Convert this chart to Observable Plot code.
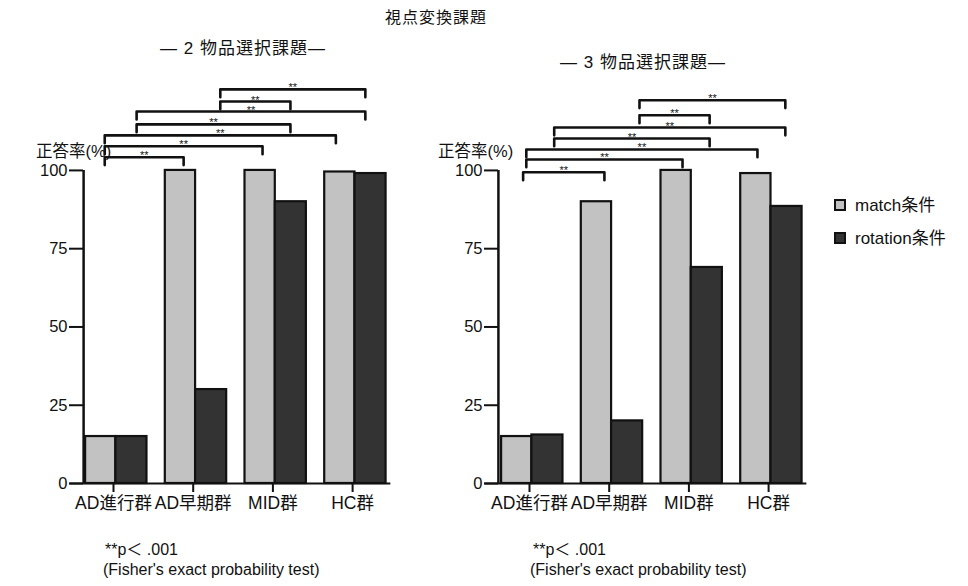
<!DOCTYPE html>
<html><head><meta charset="utf-8">
<script src="https://cdn.jsdelivr.net/npm/d3@7"></script>
<script src="https://cdn.jsdelivr.net/npm/@observablehq/plot@0.6"></script>
<style>
body{margin:0;background:#fff;font-family:"Liberation Sans",Arial,"Noto Sans CJK JP",sans-serif;color:#111;}
#root{position:relative;width:968px;height:586px;overflow:hidden;background:#fff;}
.t{position:absolute;white-space:nowrap;line-height:1;color:#111;}
.panel{position:absolute;top:30px;}
.sw{position:absolute;width:12px;height:12px;box-sizing:border-box;border:2px solid #111;}
</style></head><body><div id="root"></div>
<script>
// ---- data ----
const groups = ["AD進行群", "AD早期群", "MID群", "HC群"];
const conditions = ["match条件", "rotation条件"];
const yTicks = [0, 25, 50, 75, 100];
// 2 物品選択課題 (percent correct)
const match2 = [15, 100, 100, 99.5];
const rotation2 = [15, 30, 90, 99];
// 3 物品選択課題
const match3 = [15, 90, 100, 99];
const rotation3 = [15.5, 20, 69, 88.5];
// significance brackets: endpoints in group-index units, height in % units
const bracketFrom2 = [1.34, 1.34, 0.29, 0.29, -0.11, -0.11, -0.11];
const bracketTo2   = [3.16, 2.22, 3.16, 2.22, 2.79, 1.87, 0.88];
const bracketAt2   = [125.9, 122.0, 118.8, 114.7, 111.2, 107.7, 104.2];
const bracketFrom3 = [1.38, 1.38, 0.31, 0.31, -0.04, -0.04, -0.08];
const bracketTo3   = [3.21, 2.26, 3.21, 2.26, 2.86, 1.92, 0.94];
const bracketAt3   = [122.4, 117.6, 113.7, 110.2, 106.7, 103.5, 99.4];
const sigLabel = "**";

const colors = ["#c2c2c2", "#333333"];
const FONT = '"Liberation Sans", Arial, "Noto Sans CJK JP", sans-serif';

function panel({match, rotation, from, to, at, xrange, width, marginLeft, axisAt}) {
  const height = 490;
  const rows = groups.flatMap((g, i) => [
    {i, cond: conditions[0], v: match[i]},
    {i, cond: conditions[1], v: rotation[i]}
  ]);
  const brs = from.map((x1, k) => ({k, x1, x2: to[k], y: at[k]}));
  const leg = 2.5;
  const pts = brs.flatMap(b => [
    {k: b.k, x: b.x1, y: b.y - leg}, {k: b.k, x: b.x1, y: b.y},
    {k: b.k, x: b.x2, y: b.y}, {k: b.k, x: b.x2, y: b.y - leg}
  ]);
  return Plot.plot({
    width, height, marginLeft, marginRight: 0, marginTop: 0, marginBottom: height - 453,
    style: {fontFamily: FONT, color: "#111", background: "transparent", overflow: "visible"},
    x: {domain: [-1, 4], range: xrange},
    y: {domain: [0, 130], range: [453, 46]},
    color: {domain: conditions, range: colors},
    marks: [
      Plot.rect(rows, {
        x1: d => d.i + (d.cond === conditions[0] ? -0.35 : 0.03),
        x2: d => d.i + (d.cond === conditions[0] ? 0.03 : 0.42),
        y1: 0, y2: "v", fill: "cond", stroke: "#111", strokeWidth: 2.2
      }),
      Plot.ruleY([0], {x1: axisAt - 0.17, x2: 3.48, stroke: "#111", strokeWidth: 2}),
      Plot.ruleX([axisAt], {y1: 0, y2: 100, stroke: "#111", strokeWidth: 2.5}),
      Plot.axisY({ticks: yTicks, tickSize: 14, tickPadding: 2, fontSize: 16.5, strokeWidth: 2, label: null}),
      Plot.axisX({ticks: [0, 1, 2, 3], tickFormat: i => groups[i], tickSize: 9, tickPadding: 4,
                  fontSize: 17.5, strokeWidth: 2, label: null}),
      Plot.line(pts, {x: "x", y: "y", z: "k", stroke: "#111", strokeWidth: 2.6}),
      Plot.text(brs, {x: d => (d.x1 + d.x2) / 2, y: "y", text: () => sigLabel, fontSize: 11, dy: -1.5, fill: "#111"})
    ]
  });
}

const root = document.getElementById("root");
function addText(txt, x, y, size, anchor = "left", extra = "") {
  const d = document.createElement("div");
  d.className = "t";
  d.textContent = txt;
  d.style.fontSize = size + "px";
  d.style.top = (y - size / 2) + "px";
  if (anchor === "center") { d.style.left = x + "px"; d.style.transform = "translateX(-50%)"; }
  else d.style.left = x + "px";
  if (extra) d.style.cssText += extra;
  root.appendChild(d);
}

const left = document.createElement("div");
left.className = "panel"; left.style.left = "0px";
left.appendChild(panel({match: match2, rotation: rotation2, from: bracketFrom2, to: bracketTo2, at: bracketAt2,
  xrange: [33.3, 431.8], width: 440, marginLeft: 83, axisAt: -0.375}));
root.appendChild(left);

const right = document.createElement("div");
right.className = "panel"; right.style.left = "440px";
right.appendChild(panel({match: match3, rotation: rotation3, from: bracketFrom3, to: bracketTo3, at: bracketAt3,
  xrange: [9.3, 407.8], width: 390, marginLeft: 58, axisAt: -0.39}));
root.appendChild(right);

// titles
addText("視点変換課題", 436, 18, 16, "center", "letter-spacing:1px;");
addText("― 2 物品選択課題―", 243, 48, 17, "center", "letter-spacing:1px;");
addText("― 3 物品選択課題―", 643, 62, 17, "center", "letter-spacing:1px;");
addText("正答率(%)", 36, 151, 16.5);
addText("正答率(%)", 438, 151, 16.5);
// legend
conditions.forEach((c, k) => {
  const s = document.createElement("div");
  s.className = "sw";
  s.style.left = "834px"; s.style.top = (199 + k * 33) + "px";
  s.style.background = colors[k];
  root.appendChild(s);
  addText(c, 855, 205 + k * 33, 17);
});
// footnotes
addText("**p＜ .001", 105, 550, 16);
addText("(Fisher's exact probability test)", 103, 570, 16);
addText("**p＜ .001", 533, 550, 16);
addText("(Fisher's exact probability test)", 530, 570, 16);
</script></body></html>
